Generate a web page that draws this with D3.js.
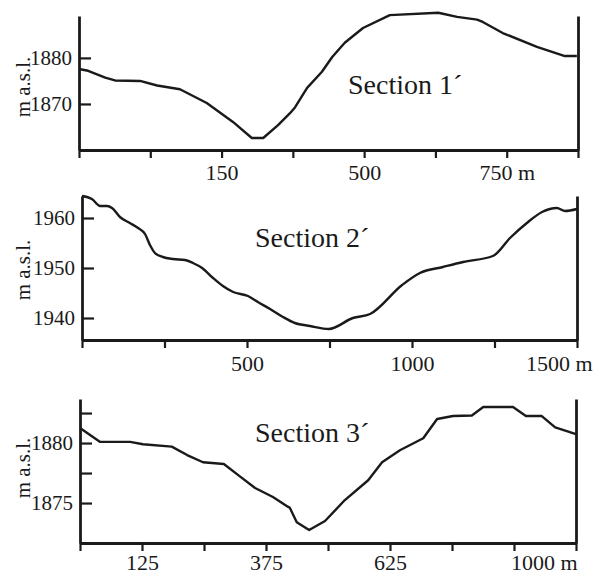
<!DOCTYPE html>
<html>
<head>
<meta charset="utf-8">
<script src="https://cdn.jsdelivr.net/npm/d3@7"></script>
<style>
  html, body { margin: 0; padding: 0; background: #fff; }
  svg { display: block; }
</style>
</head>
<body>
<svg id="chart"></svg>
<script>
// section 1
const s1Dist = [0, 16, 46, 63, 107, 137, 177, 224, 270, 303, 323, 349, 370, 379, 400, 426, 444, 466, 498, 545, 630, 663, 698, 708, 743, 803, 852, 873];
const s1Elev = [1877.6, 1877.2, 1875.7, 1875.1, 1875.0, 1874.0, 1873.2, 1870.2, 1866.1, 1862.6, 1862.6, 1865.4, 1868.0, 1869.3, 1873.5, 1877.0, 1880.2, 1883.3, 1886.5, 1889.3, 1889.8, 1888.9, 1888.3, 1887.8, 1885.4, 1882.4, 1880.4, 1880.4];
const s1XTicks = [0, 125, 250, 375, 500, 625, 750, 875];
const s1XLabels = ["", "", "150", "", "500", "", "750 m", ""];
const s1YTicks = [1870, 1880];
const s1YLabels = ["1870", "1880"];

// section 2
const s2Dist = [0, 30, 55, 76, 91, 115, 145, 170, 191, 206, 221, 245, 276, 312, 336, 364, 397, 427, 458, 503, 533, 570, 609, 645, 691, 748, 821, 873, 970, 1024, 1094, 1155, 1245, 1297, 1348, 1394, 1439, 1464, 1500];
const s2Elev = [1964.4, 1963.8, 1962.4, 1962.4, 1962.0, 1960.2, 1959.0, 1958.0, 1956.8, 1954.6, 1953.0, 1952.2, 1951.8, 1951.6, 1951.0, 1950.0, 1948.0, 1946.4, 1945.2, 1944.4, 1943.2, 1941.8, 1940.2, 1939.0, 1938.4, 1937.8, 1940.0, 1940.8, 1946.6, 1949.0, 1950.2, 1951.2, 1952.4, 1956.0, 1959.0, 1961.2, 1962.0, 1961.4, 1961.8];
const s2XTicks = [0, 250, 500, 750, 1000, 1250, 1500];
const s2XLabels = ["", "", "500", "", "1000", "", "1500 m"];
const s2YTicks = [1940, 1950, 1960];
const s2YLabels = ["1940", "1950", "1960"];

// section 3
const s3Dist = [0, 40, 101, 127, 185, 216, 248, 290, 323, 353, 389, 419, 423, 437, 462, 494, 534, 581, 609, 645, 692, 720, 752, 790, 813, 873, 899, 931, 958, 1000];
const s3Elev = [1881.25, 1880.1, 1880.1, 1879.9, 1879.7, 1879.0, 1878.4, 1878.25, 1877.2, 1876.25, 1875.5, 1874.7, 1874.6, 1873.4, 1872.75, 1873.5, 1875.25, 1876.9, 1878.4, 1879.4, 1880.4, 1882.0, 1882.25, 1882.3, 1883.0, 1883.0, 1882.25, 1882.25, 1881.3, 1880.75];
const s3XTicks = [0, 125, 250, 375, 500, 625, 750, 875, 1000];
const s3XLabels = ["", "125", "", "375", "", "625", "", "", "1000 m"];
const s3YTicks = [1875, 1877.5, 1880, 1882.5];
const s3YLabels = ["1875", "", "1880", ""];

const W = 594, H = 574;
const ink = "#1a1a1a";
const serif = "'Liberation Serif', 'Times New Roman', serif";

const svg = d3.select("#chart").attr("width", W).attr("height", H);

const panels = [
  { dist: s1Dist, elev: s1Elev, xTicks: s1XTicks, xLabels: s1XLabels, yTicks: s1YTicks, yLabels: s1YLabels,
    title: "Section 1\u00B4", left: 79, right: 578, top: 16, bottom: 150, yDom: [1860, 1889.1],
    titleX: 348, titleY: 94, unitY: 87, labelY: 30, lastDx: 0, curve: d3.curveLinear },
  { dist: s2Dist, elev: s2Elev, xTicks: s2XTicks, xLabels: s2XLabels, yTicks: s2YTicks, yLabels: s2YLabels,
    title: "Section 2\u00B4", left: 82, right: 577, top: 196, bottom: 340, yDom: [1935.6, 1964.4],
    titleX: 255, titleY: 247, unitY: 270, labelY: 31, lastDx: 15, curve: d3.curveMonotoneX },
  { dist: s3Dist, elev: s3Elev, xTicks: s3XTicks, xLabels: s3XLabels, yTicks: s3YTicks, yLabels: s3YLabels,
    title: "Section 3\u00B4", left: 80, right: 576, top: 399, bottom: 543, yDom: [1871.67, 1883.67],
    titleX: 255, titleY: 442, unitY: 468, labelY: 27, lastDx: 1, curve: d3.curveLinear }
];

panels.forEach(p => {
  const x = d3.scaleLinear().domain([p.xTicks[0], p.xTicks[p.xTicks.length - 1]]).range([p.left, p.right]);
  const y = d3.scaleLinear().domain(p.yDom).range([p.bottom, p.top]);
  const g = svg.append("g");

  // profile line
  const pts = p.dist.map((d, i) => [d, p.elev[i]]);
  g.append("path")
    .datum(pts)
    .attr("fill", "none")
    .attr("stroke", ink)
    .attr("stroke-width", 2.4)
    .attr("stroke-linejoin", "round")
    .attr("d", d3.line().x(d => x(d[0])).y(d => y(d[1])).curve(p.curve));

  // bottom axis
  const xa = g.append("g")
    .attr("transform", `translate(0,${p.bottom})`)
    .call(d3.axisBottom(x).tickValues(p.xTicks).tickSizeInner(8).tickSizeOuter(0)
      .tickFormat((d, i) => p.xLabels[i]))
    .attr("font-family", serif)
    .attr("font-size", 22);
  xa.select(".domain").attr("stroke", ink).attr("stroke-width", 2.8);
  xa.selectAll(".tick line").attr("stroke", ink).attr("stroke-width", 2.2);
  // last label sits at the axis end and is pushed inward so it fits
  xa.selectAll(".tick text")
    .attr("y", p.labelY).attr("dy", 0)
    .attr("fill", ink)
    .attr("text-anchor", (d, i) => i === p.xTicks.length - 1 ? "end" : "middle")
    .attr("dx", (d, i) => i === p.xTicks.length - 1 ? p.lastDx : 0);

  // left axis, ticks inward
  const ya = g.append("g")
    .attr("transform", `translate(${p.left},0)`)
    .call(d3.axisLeft(y).tickValues(p.yTicks).tickSizeInner(-12).tickSizeOuter(0).tickPadding(7)
      .tickFormat((d, i) => p.yLabels[i]))
    .attr("font-family", serif)
    .attr("font-size", 21);
  ya.select(".domain").attr("stroke", ink).attr("stroke-width", 2.8);
  ya.selectAll(".tick line").attr("stroke", ink).attr("stroke-width", 2.2);
  ya.selectAll(".tick text").attr("fill", ink);

  // right frame line
  const ra = g.append("g")
    .attr("transform", `translate(${p.right},0)`)
    .call(d3.axisRight(y).tickValues([]).tickSizeOuter(0));
  ra.select(".domain").attr("stroke", ink).attr("stroke-width", 2.8);

  // unit label
  g.append("text")
    .attr("transform", `translate(30,${p.unitY}) rotate(-90)`)
    .attr("text-anchor", "middle")
    .attr("font-family", serif)
    .attr("font-size", 21)
    .attr("fill", ink)
    .text("m a.s.l.");

  // section title
  g.append("text")
    .attr("x", p.titleX)
    .attr("y", p.titleY)
    .attr("font-family", serif)
    .attr("font-size", 28)
    .attr("fill", ink)
    .text(p.title);
});
</script>
</body>
</html>
